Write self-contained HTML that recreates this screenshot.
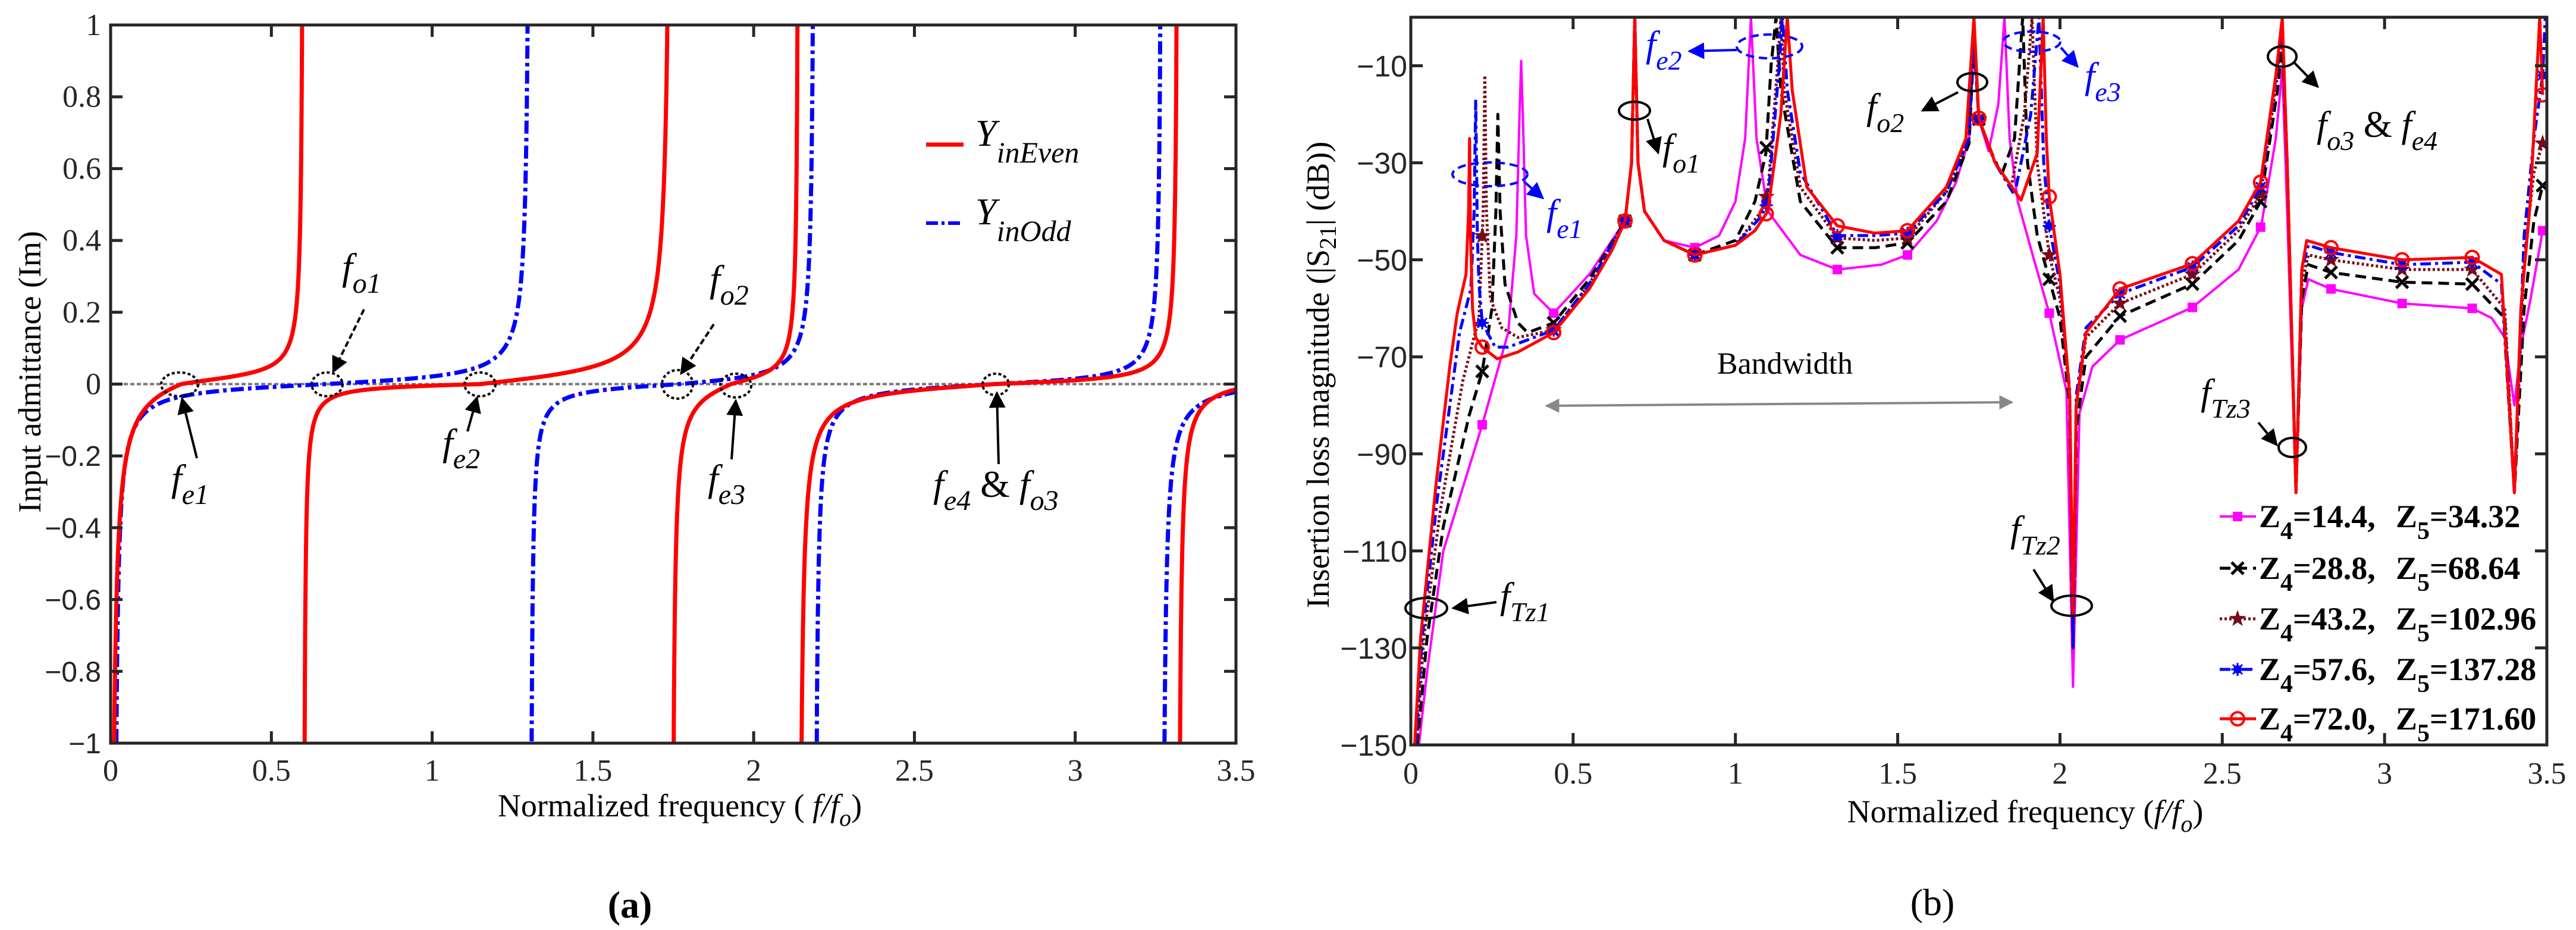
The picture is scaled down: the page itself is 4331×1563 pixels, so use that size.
<!DOCTYPE html>
<html><head><meta charset="utf-8"><style>
html,body{margin:0;padding:0;background:#fff;}
svg{display:block;font-family:"Liberation Serif",serif;}
</style></head><body>
<svg id="fig" width="4331" height="1563" viewBox="0 0 4331 1563" xmlns="http://www.w3.org/2000/svg">
<defs>
<clipPath id="clipL"><rect x="186" y="42" width="1892" height="1207"/></clipPath>
<clipPath id="clipR"><rect x="2372" y="29" width="1910" height="1223"/></clipPath>
<marker id="ah" viewBox="0 0 10 10" refX="9" refY="5" markerWidth="7" markerHeight="7" orient="auto-start-reverse"><path d="M0,0 L10,5 L0,10 z" fill="#000"/></marker>
<marker id="ahb" viewBox="0 0 10 10" refX="9" refY="5" markerWidth="7" markerHeight="7" orient="auto"><path d="M0,0 L10,5 L0,10 z" fill="#0000ff"/></marker>
<marker id="ahg" viewBox="0 0 10 10" refX="9" refY="5" markerWidth="6" markerHeight="6" orient="auto-start-reverse"><path d="M0,0 L10,5 L0,10 z" fill="#888"/></marker>
</defs>
<g id="left-chart"></g>
<g id="right-chart"></g>

<g fill="none" stroke="#000" stroke-width="4">
<ellipse cx="302" cy="646" rx="31" ry="20" stroke-dasharray="5 4"/>
<ellipse cx="550" cy="646" rx="26" ry="20" stroke-dasharray="5 4"/>
<ellipse cx="807" cy="646" rx="26" ry="20" stroke-dasharray="5 4"/>
<ellipse cx="1139" cy="646" rx="26" ry="24" stroke-dasharray="5 4"/>
<ellipse cx="1237" cy="648" rx="26" ry="20" stroke-dasharray="5 4"/>
<ellipse cx="1674" cy="646" rx="22" ry="18" stroke-dasharray="5 4"/>
<line x1="331" y1="770" x2="306" y2="670" marker-end="url(#ah)"/>
<line x1="612" y1="520" x2="560" y2="625" stroke-dasharray="10 5" marker-end="url(#ah)"/>
<line x1="786" y1="725" x2="802" y2="668" marker-end="url(#ah)"/>
<line x1="1200" y1="545" x2="1145" y2="628" stroke-dasharray="10 5" marker-end="url(#ah)"/>
<line x1="1230" y1="772" x2="1237" y2="673" marker-end="url(#ah)"/>
<line x1="1679" y1="780" x2="1676" y2="660" marker-end="url(#ah)"/>
</g>
<g font-style="italic" fill="#000">
<text x="288" y="825" font-size="64">f<tspan font-size="48" dy="22">e1</tspan></text>
<text x="575" y="470" font-size="64">f<tspan font-size="48" dy="22">o1</tspan></text>
<text x="744" y="765" font-size="64">f<tspan font-size="48" dy="22">e2</tspan></text>
<text x="1193" y="490" font-size="64">f<tspan font-size="48" dy="22">o2</tspan></text>
<text x="1190" y="825" font-size="64">f<tspan font-size="48" dy="22">e3</tspan></text>
<text x="1569" y="835" font-size="64">f<tspan font-size="48" dy="22">e4</tspan><tspan font-style="normal" dy="-22"> &amp; </tspan>f<tspan font-size="48" dy="22">o3</tspan></text>
</g>
<g>
<line x1="1557" y1="243" x2="1620" y2="243" stroke="#ff0000" stroke-width="7"/>
<text x="1640" y="245" font-size="64" font-style="italic">Y<tspan font-size="50" dy="28">inEven</tspan></text>
<line x1="1557" y1="375" x2="1620" y2="375" stroke="#0000ff" stroke-width="6" stroke-dasharray="20 6 5 6"/>
<text x="1640" y="377" font-size="64" font-style="italic">Y<tspan font-size="50" dy="28">inOdd</tspan></text>
</g>
<text transform="translate(68,625) rotate(-90)" text-anchor="middle" font-size="54">Input admittance (Im)</text>
<text x="1143" y="1372" text-anchor="middle" font-size="54">Normalized frequency ( <tspan font-style="italic">f/f</tspan><tspan font-style="italic" font-size="40" dy="16">o</tspan><tspan dy="-16">)</tspan></text>
<text x="1059" y="1542" text-anchor="middle" font-size="64" font-weight="bold">(a)</text>

<g fill="none" stroke-width="4">
<ellipse cx="2398" cy="1022" rx="35" ry="17" stroke="#000"/>
<line x1="2516" y1="1012" x2="2443" y2="1022" stroke="#000" marker-end="url(#ah)"/>
<ellipse cx="2505" cy="293" rx="63" ry="20" stroke="#0000ff" stroke-dasharray="14 8"/>
<line x1="2562" y1="305" x2="2594" y2="333" stroke="#0000ff" marker-end="url(#ahb)"/>
<ellipse cx="2748" cy="186" rx="26" ry="15" stroke="#000"/>
<line x1="2770" y1="200" x2="2788" y2="257" stroke="#000" marker-end="url(#ah)"/>
<ellipse cx="2975" cy="78" rx="55" ry="20" stroke="#0000ff" stroke-dasharray="14 8"/>
<line x1="2920" y1="84" x2="2840" y2="86" stroke="#0000ff" marker-end="url(#ahb)"/>
<ellipse cx="3316" cy="138" rx="25" ry="15" stroke="#000"/>
<line x1="3292" y1="155" x2="3232" y2="186" stroke="#000" marker-end="url(#ah)"/>
<ellipse cx="3416" cy="70" rx="48" ry="17" stroke="#0000ff" stroke-dasharray="14 8"/>
<line x1="3465" y1="80" x2="3493" y2="112" stroke="#0000ff" marker-end="url(#ahb)"/>
<ellipse cx="3837" cy="95" rx="24" ry="17" stroke="#000"/>
<line x1="3858" y1="106" x2="3897" y2="146" stroke="#000" marker-end="url(#ah)"/>
<ellipse cx="3854" cy="752" rx="23" ry="16" stroke="#000"/>
<line x1="3797" y1="710" x2="3828" y2="748" stroke="#000" marker-end="url(#ah)"/>
<ellipse cx="3483" cy="1018" rx="34" ry="17" stroke="#000"/>
<line x1="3419" y1="957" x2="3452" y2="1010" stroke="#000" marker-end="url(#ah)"/>
<line x1="2600" y1="682" x2="3383" y2="676" stroke="#888" stroke-width="4" marker-start="url(#ahg)" marker-end="url(#ahg)"/>
</g>
<g font-style="italic">
<text x="2522" y="1022" font-size="62">f<tspan font-size="46" dy="22">Tz1</tspan></text>
<text x="2600" y="378" font-size="62" fill="#0000ff">f<tspan font-size="46" dy="22">e1</tspan></text>
<text x="2795" y="268" font-size="62">f<tspan font-size="46" dy="22">o1</tspan></text>
<text x="2767" y="95" font-size="62" fill="#0000ff">f<tspan font-size="46" dy="22">e2</tspan></text>
<text x="3138" y="200" font-size="62">f<tspan font-size="46" dy="22">o2</tspan></text>
<text x="3505" y="148" font-size="62" fill="#0000ff">f<tspan font-size="46" dy="22">e3</tspan></text>
<text x="3895" y="230" font-size="62">f<tspan font-size="46" dy="22">o3</tspan><tspan font-style="normal" dy="-22"> &amp; </tspan>f<tspan font-size="46" dy="22">e4</tspan></text>
<text x="3700" y="680" font-size="62">f<tspan font-size="46" dy="22">Tz3</tspan></text>
<text x="3380" y="910" font-size="62">f<tspan font-size="46" dy="22">Tz2</tspan></text>
</g>
<text x="3001" y="628" text-anchor="middle" font-size="52">Bandwidth</text>
<text transform="translate(2234,630) rotate(-90)" text-anchor="middle" font-size="54">Insertion loss magnitude  (|S<tspan font-size="40" dy="12">21</tspan><tspan dy="-12">| (dB))</tspan></text>
<text x="3405" y="1382" text-anchor="middle" font-size="54">Normalized frequency  (<tspan font-style="italic">f/f</tspan><tspan font-style="italic" font-size="40" dy="16">o</tspan><tspan dy="-16">)</tspan></text>
<text x="3249" y="1538" text-anchor="middle" font-size="64">(b)</text>
<g id="legendR"></g>

<script>
const evenPoles = [0, 0.6, 1.745, 2.14, 3.32, 4.3];
const evenZeros = [0.22, 1.15, 1.93, 2.75, 3.6];
const evenNegScale = [0.06, 0.0096, 0.05, 0.024, 0.02];
const evenPosScale = [0.024, 0.037, 0.031, 0.013, 0.02];
const oddPoles = [0.01, 1.305, 2.19, 3.27, 4.3];
const oddZeros = [0.67, 1.77, 2.75, 3.7];
const oddNegScale = [0.019, 0.016, 0.018, 0.024];
const oddPosScale = [0.02, 0.022, 0.016, 0.024];
const leftXTicks = [0, 0.5, 1, 1.5, 2, 2.5, 3, 3.5];
const leftXTickLabels = ["0", "0.5", "1", "1.5", "2", "2.5", "3", "3.5"];
const leftYTicks = [-1, -0.8, -0.6, -0.4, -0.2, 0, 0.2, 0.4, 0.6, 0.8, 1];
const leftYTickLabels = ["\u22121", "\u22120.8", "\u22120.6", "\u22120.4", "\u22120.2", "0", "0.2", "0.4", "0.6", "0.8", "1"];

const magX = [0.025,0.05,0.1,0.16,0.22,0.3,0.325,0.335,0.34,0.345,0.355,0.38,0.44,0.55,0.66,0.68,0.69,0.70,0.72,0.78,0.875,0.95,1.0,1.03,1.048,1.065,1.1,1.2,1.314,1.45,1.53,1.62,1.68,1.72,1.735,1.75,1.78,1.81,1.829,1.845,1.87,1.92,1.967,2.02,2.04,2.06,2.1,2.185,2.408,2.55,2.62,2.665,2.685,2.7,2.727,2.745,2.765,2.835,3.054,3.27,3.33,3.37,3.40,3.42,3.45,3.487];
const magY = [-150,-135,-110,-97,-84,-65,-45,-20,-9,-20,-45,-57,-61,-53,-42,-30,0,-30,-40,-46,-47.5,-45,-38,-25,0,-25,-40,-49,-52,-51,-49,-42,-34,-25,-5,-21,-27.6,-18,0,-25,-38,-50,-61,-77,-138,-81.6,-72,-66.5,-59.8,-52,-43,-25,-10.6,-40,-98,-60,-54,-56,-59,-60,-62,-66,-80,-68,-58,-44];
const blkX = [0.02,0.05,0.1,0.18,0.22,0.25,0.262,0.268,0.275,0.29,0.33,0.36,0.44,0.55,0.66,0.68,0.69,0.70,0.72,0.78,0.875,1.0,1.06,1.094,1.11,1.125,1.14,1.2,1.314,1.43,1.53,1.65,1.72,1.735,1.75,1.79,1.82,1.86,1.885,1.9,1.93,1.967,2.0,2.03,2.04,2.05,2.08,2.185,2.408,2.55,2.618,2.67,2.685,2.7,2.727,2.745,2.765,2.835,3.054,3.27,3.37,3.40,3.43,3.46,3.487];
const blkY = [-150,-128,-105,-82,-73,-60,-40,-20,-40,-55,-63,-65,-63,-54,-42,-30,0,-30,-40,-46,-49,-46,-38,-28,-10,0,-15,-38,-47.5,-47.5,-46.5,-38,-26,-5,-21,-28,-32.5,-25,0,-30,-45,-54,-62,-80,-130,-85,-70,-61.6,-55,-46,-38,-15,-5,-30,-98,-58,-51,-52.6,-54.6,-55,-62,-98,-60,-42,-34.7];
const drdX = [0.018,0.04,0.09,0.16,0.21,0.223,0.228,0.233,0.245,0.28,0.33,0.44,0.55,0.66,0.68,0.69,0.70,0.72,0.78,0.875,1.0,1.08,1.1,1.13,1.14,1.15,1.2,1.314,1.43,1.53,1.65,1.72,1.735,1.75,1.8,1.85,1.89,1.914,1.93,1.967,2.0,2.03,2.04,2.05,2.08,2.185,2.408,2.55,2.618,2.67,2.685,2.7,2.727,2.745,2.765,2.835,3.054,3.27,3.37,3.40,3.43,3.46,3.487];
const drdY = [-150,-128,-102,-75,-62,-40,-12,-40,-58,-64,-66,-64.5,-55,-42,-30,0,-30,-40,-46,-49,-47,-40,-36,-10,0,-15,-35,-45.5,-46,-45.5,-36,-25,-3,-21,-30,-35,-20,0,-30,-49,-58,-78,-130,-80,-66,-59,-53,-44,-36.5,-12,-3,-30,-98,-55,-49,-50,-52,-52,-60,-98,-50,-32,-26];
const bluX = [0.015,0.035,0.08,0.15,0.185,0.195,0.2,0.205,0.21,0.22,0.26,0.3,0.44,0.55,0.66,0.68,0.69,0.70,0.72,0.78,0.875,1.0,1.08,1.1,1.135,1.145,1.16,1.2,1.314,1.43,1.53,1.65,1.72,1.735,1.75,1.8,1.86,1.91,1.935,1.95,1.967,2.0,2.03,2.04,2.05,2.08,2.185,2.408,2.55,2.618,2.67,2.685,2.7,2.727,2.745,2.765,2.835,3.054,3.27,3.36,3.40,3.43,3.46,3.487,3.495];
const bluY = [-150,-128,-100,-65,-56,-40,-17,-45,-55,-63,-68,-68,-64.5,-55,-42,-30,0,-30,-40,-46,-49,-47,-41,-38,-10,0,-15,-32,-45,-45,-44.5,-36,-25,-2,-21,-30,-36.7,-20,0,-30,-43,-55,-77,-130,-78,-64,-57,-51.5,-43,-35,-10,-1,-30,-98,-52,-47,-48.5,-51,-50.5,-55,-98,-45,-25,-12,0];
const redX = [0.012,0.03,0.078,0.12,0.143,0.17,0.178,0.181,0.184,0.19,0.2,0.22,0.266,0.33,0.44,0.55,0.62,0.66,0.68,0.69,0.70,0.72,0.78,0.875,1.0,1.06,1.1,1.14,1.16,1.175,1.22,1.314,1.43,1.53,1.65,1.71,1.735,1.75,1.8,1.88,1.93,1.948,1.958,1.967,2.0,2.03,2.04,2.05,2.08,2.185,2.408,2.55,2.618,2.665,2.685,2.7,2.727,2.745,2.76,2.835,3.054,3.27,3.36,3.40,3.42,3.449,3.478,3.487];
const redY = [-150,-128,-96,-72,-61,-53,-40,-25,-45,-60,-66,-68,-70.4,-69,-65,-56,-48,-42,-30,0,-30,-40,-46,-49,-47,-44,-40,-20,0,-15,-35,-43,-44.5,-44,-35,-25,0,-20.8,-30,-37.7,-28,0,-25,-37,-53,-78,-123,-80,-65,-56,-50.8,-42,-34,-12,0,-30,-98,-52,-46,-47.5,-50,-49.5,-53,-98,-60,-38,0,-16];
const markerX = [0.22,0.44,0.66,0.875,1.095,1.314,1.53,1.75,1.967,2.185,2.408,2.618,2.835,3.054,3.27,3.487];
const rightXTicks = [0, 0.5, 1, 1.5, 2, 2.5, 3, 3.5];
const rightXTickLabels = ["0", "0.5", "1", "1.5", "2", "2.5", "3", "3.5"];
const rightYTicks = [-10, -30, -50, -70, -90, -110, -130, -150];
const rightYTickLabels = ["\u221210", "\u221230", "\u221250", "\u221270", "\u221290", "\u2212110", "\u2212130", "\u2212150"];
const legendZ4 = ["14.4", "28.8", "43.2", "57.6", "72.0"];
const legendZ5 = ["34.32", "68.64", "102.96", "137.28", "171.60"];

const NS = "http://www.w3.org/2000/svg";
function mk(tag, attrs, parent) {
  const e = document.createElementNS(NS, tag);
  for (const k in attrs) e.setAttribute(k, attrs[k]);
  parent.appendChild(e);
  return e;
}
const lx = x => 186 + x / 3.5 * 1892;
const ly = y => 645.5 - y * 603.5;
const rx = x => 2372 + x / 3.5 * 1910;
const ry = d => 29 + (-d) / 150 * 1223;

const L = document.getElementById('left-chart');
const zl = mk('line', {x1: lx(0), y1: ly(0), x2: lx(3.5), y2: ly(0), stroke: '#777', 'stroke-width': 4, 'stroke-dasharray': '7 4'}, L);



function branchVal(x, p0, p1, z, an, ap) {
  const u = (x - p0) / (p1 - p0), uz = (z - p0) / (p1 - p0);
  const f = -1 / Math.tan(Math.PI * u) + 1 / Math.tan(Math.PI * uz);
  return f < 0 ? an * f : ap * f;
}
function drawTan(poles, zeros, an, ap, color, dash, name) {
  const g = mk('g', {'clip-path': 'url(#clipL)'}, L);
  
  
  for (let b = 0; b < zeros.length; b++) {
    const p0 = poles[b], p1 = poles[b + 1];
    const a = Math.max(p0, 0), e = Math.min(p1, 3.5);
    if (e <= a) continue;
    let d = '';
    const N = 1500;
    for (let i = 0; i <= N; i++) {
      const t = i / N;
      const s = 0.5 - 0.5 * Math.cos(Math.PI * t);
      let x = a + (e - a) * s;
      if (x <= p0) x = p0 + 1e-5;
      if (x >= p1) x = p1 - 1e-5;
      let y = branchVal(x, p0, p1, zeros[b], an[b], ap[b]);
      y = Math.max(-1.2, Math.min(1.2, y));
      d += (i ? 'L' : 'M') + lx(x).toFixed(1) + ',' + ly(y).toFixed(1);
    }
    const p = mk('path', {d: d, fill: 'none', stroke: color, 'stroke-width': 7, 'stroke-dasharray': dash, 'stroke-linejoin': 'round'}, g);
    
    
  }
}
drawTan(oddPoles, oddZeros, oddNegScale, oddPosScale, '#0000ff', '22 7 6 7', 'y-in-odd-series');
drawTan(evenPoles, evenZeros, evenNegScale, evenPosScale, '#ff0000', 'none', 'y-in-even-series');

function frame(x0, y0, x1, y1, xt, yt, xs, ys, name, P) {
  const fr = mk('rect', {x: x0, y: y0, width: x1 - x0, height: y1 - y0, fill: 'none', stroke: '#262626', 'stroke-width': 5}, P);
  
  
  xt.forEach(v => {
    const X = xs(v);
    const t1 = mk('line', {x1: X, y1: y1, x2: X, y2: y1 - 20, stroke: '#262626', 'stroke-width': 5}, P);
    
    
    const t2 = mk('line', {x1: X, y1: y0, x2: X, y2: y0 + 20, stroke: '#262626', 'stroke-width': 5}, P);
    
    
  });
  yt.forEach(v => {
    const Y = ys(v);
    const t1 = mk('line', {x1: x0, y1: Y, x2: x0 + 20, y2: Y, stroke: '#262626', 'stroke-width': 5}, P);
    
    
    const t2 = mk('line', {x1: x1, y1: Y, x2: x1 - 20, y2: Y, stroke: '#262626', 'stroke-width': 5}, P);
    
    
  });
}
frame(186, 42, 2078, 1249, leftXTicks, leftYTicks, lx, ly, 'left', L);
leftXTicks.forEach((v, i) => {
  const t = mk('text', {x: lx(v), y: 1312, 'text-anchor': 'middle', 'font-size': 52, fill: '#262626'}, L);
  t.textContent = leftXTickLabels[i];
  
  
});
leftYTicks.forEach((v, i) => {
  const neg = leftYTickLabels[i].startsWith('\u2212');
  const t = mk('text', {x: 170, y: ly(v) + 17, 'text-anchor': 'end', 'font-size': neg ? 48 : 52, fill: '#262626', 'font-family': neg ? '"Liberation Sans", sans-serif' : '"Liberation Serif", serif'}, L);
  t.textContent = leftYTickLabels[i];
  
  
});

const R = document.getElementById('right-chart');
function interp(xs, ys, x) {
  if (x <= xs[0]) return ys[0];
  for (let i = 1; i < xs.length; i++) {
    if (x <= xs[i]) { const t = (x - xs[i-1]) / (xs[i] - xs[i-1]); return ys[i-1] + t * (ys[i] - ys[i-1]); }
  }
  return ys[ys.length - 1];
}
function markerShape(kind, X, Y, color, P) {
  let m;
  if (kind === 'square') m = mk('rect', {x: X - 7, y: Y - 7, width: 14, height: 14, fill: color, stroke: color, 'stroke-width': 2}, P);
  else if (kind === 'x') m = mk('path', {d: `M${X-10},${Y-10}L${X+10},${Y+10}M${X-10},${Y+10}L${X+10},${Y-10}`, stroke: color, 'stroke-width': 5, fill: 'none'}, P);
  else if (kind === 'star') {
    let d = '';
    for (let k = 0; k < 10; k++) { const r = k % 2 ? 6 : 15; const a = -Math.PI / 2 + k * Math.PI / 5; d += (k ? 'L' : 'M') + (X + r * Math.cos(a)).toFixed(1) + ',' + (Y + r * Math.sin(a)).toFixed(1); }
    m = mk('path', {d: d + 'Z', fill: color}, P);
  } else if (kind === 'ast') {
    m = mk('g', {}, P);
    mk('circle', {cx: X, cy: Y, r: 7, fill: color}, m);
    mk('path', {d: `M${X-11},${Y}L${X+11},${Y}M${X},${Y-11}L${X},${Y+11}M${X-8},${Y-8}L${X+8},${Y+8}M${X-8},${Y+8}L${X+8},${Y-8}`, stroke: color, 'stroke-width': 3}, m);
  } else m = mk('circle', {cx: X, cy: Y, r: 11, fill: 'none', stroke: color, 'stroke-width': 4}, P);
  return m;
}
const series = [
  {xs: magX, ys: magY, color: '#ff00ff', w: 4, dash: 'none', mk: 'square', name: 'z4-14-series'},
  {xs: blkX, ys: blkY, color: '#000000', w: 5, dash: '18 10', mk: 'x', name: 'z4-28-series'},
  {xs: drdX, ys: drdY, color: '#7a0a1a', w: 5, dash: '4 4', mk: 'star', name: 'z4-43-series'},
  {xs: bluX, ys: bluY, color: '#0000ff', w: 5, dash: '18 7 5 7', mk: 'ast', name: 'z4-57-series'},
  {xs: redX, ys: redY, color: '#ff0000', w: 5, dash: 'none', mk: 'circle', name: 'z4-72-series'}
];
series.forEach(s => {
  const g = mk('g', {'clip-path': 'url(#clipR)'}, R);
  
  
  let d = '';
  s.xs.forEach((x, i) => { d += (i ? 'L' : 'M') + rx(x).toFixed(1) + ',' + ry(s.ys[i]).toFixed(1); });
  const p = mk('path', {d: d, fill: 'none', stroke: s.color, 'stroke-width': s.w, 'stroke-dasharray': s.dash, 'stroke-linejoin': 'round'}, g);
  
  
  markerX.forEach(mx => {
    if (mx < s.xs[0] || mx > s.xs[s.xs.length - 1]) return;
    const m = markerShape(s.mk, rx(mx), ry(interp(s.xs, s.ys, mx)), s.color, g);
    
    
  });
});
frame(2372, 29, 4282, 1252, rightXTicks, rightYTicks, rx, ry, 'right', R);
rightXTicks.forEach((v, i) => {
  const t = mk('text', {x: rx(v), y: 1317, 'text-anchor': 'middle', 'font-size': 52, fill: '#262626'}, R);
  t.textContent = rightXTickLabels[i];
  
  
});
rightYTicks.forEach((v, i) => {
  const t = mk('text', {x: 2366, y: ry(v) + 18, 'text-anchor': 'end', 'font-size': 50, fill: '#262626', 'font-family': '"Liberation Sans", sans-serif'}, R);
  t.textContent = rightYTickLabels[i];
  
  
});
function subText(parent, x, y, base, sub, rest) {
  const t = mk('text', {x: x, y: y, 'font-size': 54, 'font-weight': 'bold'}, parent);
  const a = mk('tspan', {}, t); a.textContent = base;
  const b = mk('tspan', {'font-size': 42, dy: 20}, t); b.textContent = sub;
  const c = mk('tspan', {dy: -20}, t); c.textContent = rest;
  return t;
}
const LG = document.getElementById('legendR');
const legRows = [868, 955, 1040, 1125, 1208];
series.forEach((s, i) => {
  const y = legRows[i];
  const ln = mk('line', {x1: 3732, y1: y, x2: 3793, y2: y, stroke: s.color, 'stroke-width': s.w, 'stroke-dasharray': s.dash}, LG);
  
  
  const m = markerShape(s.mk, 3762, y, s.color, LG);
  
  
  const t = subText(LG, 3798, y + 18, 'Z', '4', '=' + legendZ4[i] + ',');
  
  
  const t2 = subText(LG, 4028, y + 18, 'Z', '5', '=' + legendZ5[i]);
  
  
});
</script>
</svg>
</body></html>
